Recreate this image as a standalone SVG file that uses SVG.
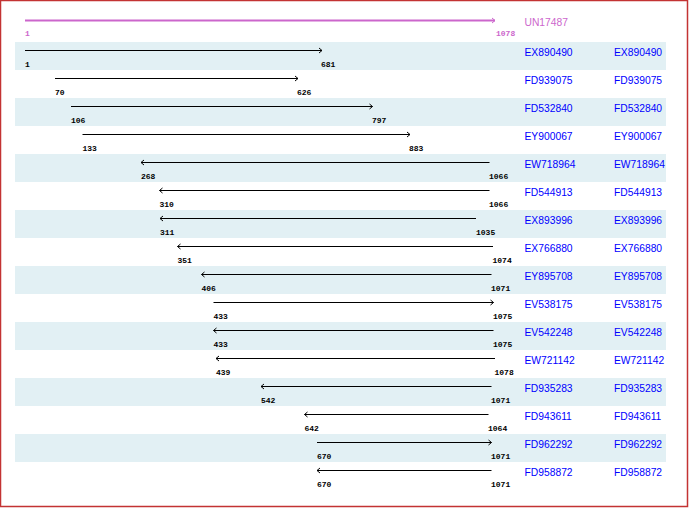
<svg xmlns="http://www.w3.org/2000/svg" width="690" height="508" viewBox="0 0 690 508">
<style>
.band{fill:#e2f0f4}
.ln{stroke:#000;stroke-width:1;fill:none}
.num{font-family:"Liberation Mono",monospace;font-size:8px;font-weight:bold;fill:#000}
.nm{font-family:"Liberation Sans",Arial,sans-serif;font-size:10.3px;fill:#0000ff}
.pu{fill:#cc66cc}
</style>
<defs>
<marker id="ah" markerUnits="userSpaceOnUse" markerWidth="6" markerHeight="8" refX="4" refY="3" orient="auto-start-reverse" viewBox="0 0 6 6"><path d="M1,0.5 L4,3 L1,5.5" fill="none" stroke="#000" stroke-width="1"/></marker>
<marker id="ahp" markerUnits="userSpaceOnUse" markerWidth="6" markerHeight="8" refX="4" refY="3" orient="auto" viewBox="0 0 6 6"><path d="M1,0.5 L4,3 L1,5.5" fill="none" stroke="#cc66cc" stroke-width="1"/></marker>
</defs>
<rect x="0.5" y="0.5" width="687" height="506" fill="#fff" stroke="#c33333" stroke-width="1.5"/>
<g id="bands">
<rect class="band" x="15" y="42" width="651" height="28"/>
<rect class="band" x="15" y="98" width="651" height="28"/>
<rect class="band" x="15" y="154" width="651" height="28"/>
<rect class="band" x="15" y="210" width="651" height="28"/>
<rect class="band" x="15" y="266" width="651" height="28"/>
<rect class="band" x="15" y="322" width="651" height="28"/>
<rect class="band" x="15" y="378" width="651" height="28"/>
<rect class="band" x="15" y="434" width="651" height="28"/>
</g>
<g id="connectors">
<line x1="25" y1="20.5" x2="495" y2="20.5" stroke="#cc66cc" stroke-width="2" marker-end="url(#ahp)"/>
<line class="ln" x1="25" y1="50.5" x2="322" y2="50.5" marker-end="url(#ah)"/>
<line class="ln" x1="55" y1="78.5" x2="298" y2="78.5" marker-end="url(#ah)"/>
<line class="ln" x1="71" y1="106.5" x2="372.5" y2="106.5" marker-end="url(#ah)"/>
<line class="ln" x1="82.5" y1="134.5" x2="410" y2="134.5" marker-end="url(#ah)"/>
<line class="ln" x1="141" y1="162.5" x2="489.5" y2="162.5" marker-start="url(#ah)"/>
<line class="ln" x1="159.5" y1="190.5" x2="489.5" y2="190.5" marker-start="url(#ah)"/>
<line class="ln" x1="160" y1="218.5" x2="476" y2="218.5" marker-start="url(#ah)"/>
<line class="ln" x1="177.5" y1="246.5" x2="493" y2="246.5" marker-start="url(#ah)"/>
<line class="ln" x1="201.5" y1="274.5" x2="491.5" y2="274.5" marker-start="url(#ah)"/>
<line class="ln" x1="213.5" y1="302.5" x2="493.5" y2="302.5" marker-end="url(#ah)"/>
<line class="ln" x1="213.5" y1="330.5" x2="493.5" y2="330.5" marker-start="url(#ah)"/>
<line class="ln" x1="216" y1="358.5" x2="495" y2="358.5" marker-start="url(#ah)"/>
<line class="ln" x1="261" y1="386.5" x2="491.5" y2="386.5" marker-start="url(#ah)"/>
<line class="ln" x1="304.5" y1="414.5" x2="488.5" y2="414.5" marker-start="url(#ah)"/>
<line class="ln" x1="317" y1="442.5" x2="491.5" y2="442.5" marker-end="url(#ah)"/>
<line class="ln" x1="317" y1="470.5" x2="491.5" y2="470.5" marker-start="url(#ah)"/>
</g>
<g id="UN17487">
<text class="num pu" x="25" y="36">1</text>
<text class="num pu" x="496" y="36">1078</text>
<text class="nm pu" x="524.5" y="26">UN17487</text>
</g>
<g id="EX890490"><text class="num" x="25" y="67">1</text><text class="num" x="321" y="67">681</text><text class="nm" x="524.5" y="56">EX890490</text><text class="nm" x="614" y="56">EX890490</text></g>
<g id="FD939075"><text class="num" x="55" y="95">70</text><text class="num" x="297" y="95">626</text><text class="nm" x="524.5" y="84">FD939075</text><text class="nm" x="614" y="84">FD939075</text></g>
<g id="FD532840"><text class="num" x="71" y="123">106</text><text class="num" x="372" y="123">797</text><text class="nm" x="524.5" y="112">FD532840</text><text class="nm" x="614" y="112">FD532840</text></g>
<g id="EY900067"><text class="num" x="82.5" y="151">133</text><text class="num" x="409" y="151">883</text><text class="nm" x="524.5" y="140">EY900067</text><text class="nm" x="614" y="140">EY900067</text></g>
<g id="EW718964"><text class="num" x="141" y="179">268</text><text class="num" x="489" y="179">1066</text><text class="nm" x="524.5" y="168">EW718964</text><text class="nm" x="614" y="168">EW718964</text></g>
<g id="FD544913"><text class="num" x="159.5" y="207">310</text><text class="num" x="489" y="207">1066</text><text class="nm" x="524.5" y="196">FD544913</text><text class="nm" x="614" y="196">FD544913</text></g>
<g id="EX893996"><text class="num" x="160" y="235">311</text><text class="num" x="476" y="235">1035</text><text class="nm" x="524.5" y="224">EX893996</text><text class="nm" x="614" y="224">EX893996</text></g>
<g id="EX766880"><text class="num" x="177.5" y="263">351</text><text class="num" x="492.5" y="263">1074</text><text class="nm" x="524.5" y="252">EX766880</text><text class="nm" x="614" y="252">EX766880</text></g>
<g id="EY895708"><text class="num" x="201.5" y="291">406</text><text class="num" x="491" y="291">1071</text><text class="nm" x="524.5" y="280">EY895708</text><text class="nm" x="614" y="280">EY895708</text></g>
<g id="EV538175"><text class="num" x="213.5" y="319">433</text><text class="num" x="493" y="319">1075</text><text class="nm" x="524.5" y="308">EV538175</text><text class="nm" x="614" y="308">EV538175</text></g>
<g id="EV542248"><text class="num" x="213.5" y="347">433</text><text class="num" x="493" y="347">1075</text><text class="nm" x="524.5" y="336">EV542248</text><text class="nm" x="614" y="336">EV542248</text></g>
<g id="EW721142"><text class="num" x="216" y="375">439</text><text class="num" x="494.5" y="375">1078</text><text class="nm" x="524.5" y="364">EW721142</text><text class="nm" x="614" y="364">EW721142</text></g>
<g id="FD935283"><text class="num" x="261" y="403">542</text><text class="num" x="491" y="403">1071</text><text class="nm" x="524.5" y="392">FD935283</text><text class="nm" x="614" y="392">FD935283</text></g>
<g id="FD943611"><text class="num" x="304.5" y="431">642</text><text class="num" x="488" y="431">1064</text><text class="nm" x="524.5" y="420">FD943611</text><text class="nm" x="614" y="420">FD943611</text></g>
<g id="FD962292"><text class="num" x="317" y="459">670</text><text class="num" x="491" y="459">1071</text><text class="nm" x="524.5" y="448">FD962292</text><text class="nm" x="614" y="448">FD962292</text></g>
<g id="FD958872"><text class="num" x="317" y="487">670</text><text class="num" x="491" y="487">1071</text><text class="nm" x="524.5" y="476">FD958872</text><text class="nm" x="614" y="476">FD958872</text></g>
</svg>
